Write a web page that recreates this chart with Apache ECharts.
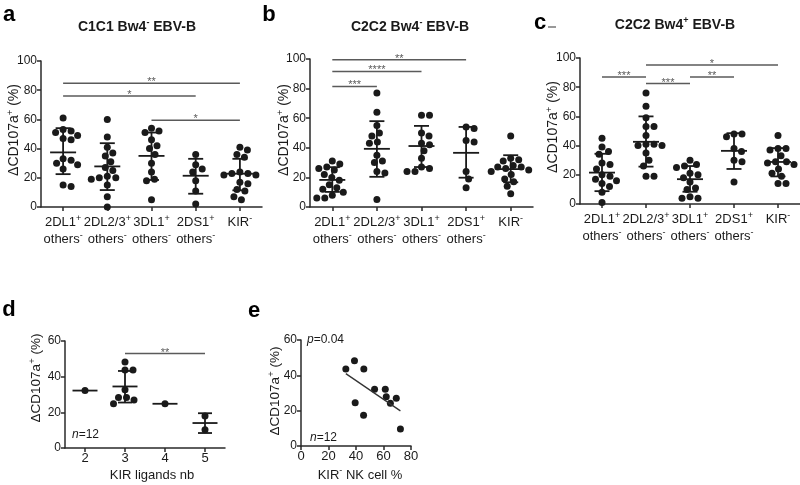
<!DOCTYPE html>
<html><head><meta charset="utf-8">
<script src="https://cdn.jsdelivr.net/npm/echarts@6/dist/echarts.min.js"></script>
<style>html,body{margin:0;padding:0;background:#fff}#c{width:800px;height:485px}</style>
</head><body><div id="c"></div>
<script>
// ---------- categories ----------
const groupMain = ['2DL1', '2DL2/3', '3DL1', '2DS1', 'KIR'];
const groupMainSup = ['+', '+', '+', '+', '-'];
const groupSecond = ['others', 'others', 'others', 'others', ''];
const ligandCats = ['2', '3', '4', '5'];
const yTicks100 = [0, 100, 20];
const yTicks60 = [0, 60, 20];
const xTicksE = [0, 80, 20];

// ---------- panel a : C1C1 Bw4- EBV-B ----------
const aValues = [
  [61, 53, 52, 51, 49, 47, 46, 33, 32, 30, 29, 26, 15, 14],
  [60, 48, 41, 37, 35, 31, 27, 25, 21, 20, 20, 19, 15, 7, 0],
  [54, 52, 51, 46, 42, 40, 36, 30, 24, 19, 18, 5],
  [36, 29, 26, 24, 18, 11, 2],
  [41, 39, 36, 34, 24, 23, 23, 22, 22, 17, 16, 12, 11, 7, 5]
];
const aMean = [37.4, 27.8, 35.0, 21.4, 22.8];
const aLow = [22.5, 11.6, 18.5, 9.1, 11.4];
const aHigh = [54.0, 43.7, 51.0, 33.0, 33.0];
const aSig = [[0, 4, 84.7, '**'], [0, 3, 76, '*'], [2, 4, 59.4, '*']];

// ---------- panel b : C2C2 Bw4- EBV-B ----------
const bValues = [
  [31, 29, 27, 26, 25, 22, 20, 18, 15, 13, 12, 10, 8, 6, 6],
  [77, 64, 55, 50, 48, 44, 43, 35, 31, 30, 24, 23, 5],
  [62, 62, 50, 48, 43, 42, 38, 33, 27, 26, 24, 24],
  [54, 53, 45, 44, 24, 19, 13],
  [48, 33, 32, 31, 28, 27, 27, 26, 25, 24, 22, 19, 17, 14, 9]
];
const bMean = [18.3, 39.3, 41.2, 36.6, 25.6];
const bLow = [10.2, 20.4, 27.0, 19.8, 16.7];
const bHigh = [26.9, 58.0, 54.8, 54.1, 35.0];
const bSig = [[0, 3, 99.5, '**'], [0, 2, 91.6, '****'], [0, 1, 81.5, '***']];

// ---------- panel c : C2C2 Bw4+ EBV-B ----------
const cValues = [
  [45, 39, 36, 34, 28, 27, 24, 20, 19, 17, 16, 14, 12, 8, 1],
  [76, 67, 59, 53, 53, 47, 41, 41, 40, 40, 35, 30, 26, 19, 19],
  [30, 27, 26, 25, 21, 20, 18, 15, 11, 10, 5, 4, 4],
  [48, 48, 46, 38, 36, 30, 29, 15],
  [47, 38, 38, 37, 33, 29, 29, 28, 27, 24, 21, 19, 14, 14]
];
const cMean = [21.5, 42.6, 17.0, 36.4, 28.8];
const cLow = [8.8, 25.6, 8.4, 24.0, 18.9];
const cHigh = [34.4, 60.0, 26.0, 48.5, 38.3];
const cSig = [[1, 4, 95.2, '*'], [0, 1, 87, '***'], [1, 2, 82.5, '***'], [2, 3, 87, '**']];

// ---------- panel d : KIR ligands nb ----------
const dValues = [
  [32.2],
  [48.2, 43.8, 43.8, 32.6, 28.3, 28.3, 26.9, 24.8],
  [24.8],
  [18.0, 10.2]
];
const dMean = [32.2, 34.5, 24.8, 14.0];
const dLow = [null, 25.5, null, 8.4];
const dHigh = [null, 43.2, null, 19.5];
const dSig = [[1, 3, 53, '**']];

// ---------- panel e : KIR- NK cell % ----------
const eX = [32.6, 38.9, 45.7, 39.4, 45.5, 53.5, 61.3, 62.0, 65.0, 69.3, 72.3];
const eY = [43.6, 48.3, 43.6, 24.5, 17.4, 32.1, 32.1, 27.9, 24.2, 27.0, 9.6];

// ---------- helpers ----------
const FONT = '"Liberation Sans", Arial, sans-serif';
const INK = '#1a1a1a';
const AXIS = '#2a2a2a';
const SIGC = '#5a5a5a';

const grids = [
  {left: 41, top: 61, width: 221, height: 146},
  {left: 310, top: 59, width: 223, height: 148},
  {left: 580, top: 58, width: 220, height: 146},
  {left: 65, top: 341, width: 160, height: 107},
  {left: 301, top: 340, width: 110, height: 106}
];

function swarm(vals, pxPerUnit, diam) {
  const order = vals.map((v, i) => i).sort((p, q) => vals[q] - vals[p]);
  const placed = [];
  const offs = new Array(vals.length).fill(0);
  for (const i of order) {
    const y = vals[i] * pxPerUnit;
    let chosen = 0;
    outer:
    for (let s = 0; s <= 60; s += 0.5) {
      for (const c of (s === 0 ? [0] : [s, -s])) {
        let ok = true;
        for (const p of placed) {
          const dx = p.x - c, dy = p.y - y;
          if (dx * dx + dy * dy < diam * diam) { ok = false; break; }
        }
        if (ok) { chosen = c; break outer; }
      }
    }
    placed.push({x: chosen, y: y});
    offs[i] = chosen;
  }
  return offs;
}

function dotData(values, pxPerUnit) {
  const out = [];
  values.forEach((grp, gi) => {
    const offs = swarm(grp, pxPerUnit, 7.8);
    grp.forEach((v, k) => out.push([gi, v, offs[k]]));
  });
  return out;
}

function dotSeries(idx, values, pxPerUnit) {
  return {
    type: 'custom', xAxisIndex: idx, yAxisIndex: idx, silent: true,
    data: dotData(values, pxPerUnit),
    renderItem: (params, api) => {
      const p = api.coord([api.value(0), api.value(1)]);
      return {type: 'circle', shape: {cx: p[0] + api.value(2), cy: p[1], r: 3.5}, style: {fill: INK}};
    }
  };
}

function barSeries(idx, mean, low, high, halfMean, halfCap) {
  const data = mean.map((m, i) => [i, m, low[i] == null ? m : low[i], high[i] == null ? m : high[i]]);
  return {
    type: 'custom', xAxisIndex: idx, yAxisIndex: idx, silent: true, z: 3,
    data: data,
    renderItem: (params, api) => {
      const i = api.value(0);
      const pm = api.coord([i, api.value(1)]);
      const pl = api.coord([i, api.value(2)]);
      const ph = api.coord([i, api.value(3)]);
      const st = {stroke: INK, lineWidth: 1.8};
      const ch = [{type: 'line', shape: {x1: pm[0] - halfMean, y1: pm[1], x2: pm[0] + halfMean, y2: pm[1]}, style: st}];
      if (api.value(2) !== api.value(3)) {
        ch.push({type: 'line', shape: {x1: pm[0], y1: pl[1], x2: pm[0], y2: ph[1]}, style: st});
        ch.push({type: 'line', shape: {x1: pm[0] - halfCap, y1: pl[1], x2: pm[0] + halfCap, y2: pl[1]}, style: st});
        ch.push({type: 'line', shape: {x1: pm[0] - halfCap, y1: ph[1], x2: pm[0] + halfCap, y2: ph[1]}, style: st});
      }
      return {type: 'group', children: ch};
    }
  };
}

function sigSeries(idx, sig) {
  return {
    type: 'custom', xAxisIndex: idx, yAxisIndex: idx, silent: true, z: 4,
    data: sig.map(s => [s[0], s[2], s[1]]),
    renderItem: (params, api) => {
      const a = api.coord([api.value(0), api.value(1)]);
      const b = api.coord([api.value(2), api.value(1)]);
      const label = sig[params.dataIndex][3];
      return {type: 'group', children: [
        {type: 'line', shape: {x1: a[0], y1: a[1], x2: b[0], y2: b[1]}, style: {stroke: SIGC, lineWidth: 1.5}},
        {type: 'text', x: (a[0] + b[0]) / 2, y: a[1] - 1,
          style: {text: label, fontSize: 11, fontFamily: FONT, fill: SIGC, align: 'center', verticalAlign: 'middle'}}
      ]};
    }
  };
}

const axisLineStyle = {show: true, lineStyle: {color: AXIS, width: 1.5}};
const axisTickStyle = {show: true, length: 4, lineStyle: {color: AXIS, width: 1.5}};

function catXAxis(idx) {
  return {
    type: 'category', gridIndex: idx, data: groupMain, boundaryGap: true,
    axisLine: axisLineStyle, axisTick: Object.assign({alignWithLabel: true, interval: 0}, axisTickStyle),
    splitLine: {show: false},
    axisLabel: {
      interval: 0, margin: 7, color: INK,
      formatter: (v, i) => '{m|' + groupMain[i] + '}{s|' + groupMainSup[i] + '}' +
        (groupSecond[i] ? '\n{m|' + groupSecond[i] + '}{s|-}' : ''),
      rich: {
        m: {fontSize: 13, fontFamily: FONT, color: INK, lineHeight: 17},
        s: {fontSize: 9, fontFamily: FONT, color: INK, lineHeight: 11, verticalAlign: 'top'}
      }
    }
  };
}

function valYAxis(idx, t) {
  return {
    type: 'value', gridIndex: idx, min: t[0], max: t[1], interval: t[2],
    axisLine: axisLineStyle, axisTick: axisTickStyle, splitLine: {show: false},
    axisLabel: {fontSize: 12, fontFamily: FONT, color: INK, margin: 4}
  };
}

// regression for panel e
const n = eX.length;
const mx = eX.reduce((s, v) => s + v, 0) / n;
const my = eY.reduce((s, v) => s + v, 0) / n;
let sxy = 0, sxx = 0;
for (let i = 0; i < n; i++) { sxy += (eX[i] - mx) * (eY[i] - my); sxx += (eX[i] - mx) * (eX[i] - mx); }
const slope = sxy / sxx;
const x0 = Math.min(...eX), x1 = Math.max(...eX);
const regLine = [[x0, my + slope * (x0 - mx)], [x1, my + slope * (x1 - mx)]];

const supRich = {
  t: {fontSize: 14, fontWeight: 'bold', fontFamily: FONT, fill: INK, color: INK, lineHeight: 18},
  ts: {fontSize: 9, fontWeight: 'bold', fontFamily: FONT, fill: INK, color: INK, lineHeight: 11, verticalAlign: 'top'},
  m: {fontSize: 13, fontFamily: FONT, fill: INK, color: INK, lineHeight: 17},
  ms: {fontSize: 9, fontFamily: FONT, fill: INK, color: INK, lineHeight: 11, verticalAlign: 'top'},
  y: {fontSize: 14, fontFamily: FONT, fill: INK, color: INK, lineHeight: 18},
  ys: {fontSize: 9.5, fontFamily: FONT, fill: INK, color: INK, lineHeight: 12, verticalAlign: 'top'},
  y2: {fontSize: 13.5, fontFamily: FONT, fill: INK, color: INK, lineHeight: 17},
  i: {fontSize: 12, fontStyle: 'italic', fontFamily: FONT, fill: INK, color: INK},
  r: {fontSize: 12, fontFamily: FONT, fill: INK, color: INK}
};

function rtext(x, y, text, extra) {
  return Object.assign({type: 'text', x: x, y: y, silent: true,
    style: {text: text, rich: supRich, align: 'center', verticalAlign: 'middle', fontFamily: FONT, fill: INK}}, extra || {});
}
function ltext(x, y, text) {
  return {type: 'text', x: x, y: y, silent: true,
    style: {text: text, rich: supRich, align: 'left', verticalAlign: 'middle', fontFamily: FONT, fill: INK}};
}
function letter(x, y, ch) {
  return {type: 'text', x: x, y: y, silent: true,
    style: {text: ch, fontSize: 22, fontWeight: 'bold', fontFamily: FONT, fill: '#000', align: 'center', verticalAlign: 'middle'}};
}
const yName = '{y|ΔCD107a}{ys|+}{y| (%)}';
const yName2 = '{y2|ΔCD107a}{ys|+}{y2| (%)}';

const option = {
  animation: false,
  backgroundColor: '#fff',
  grid: grids,
  xAxis: [
    catXAxis(0), catXAxis(1), catXAxis(2),
    {
      type: 'category', gridIndex: 3, data: ligandCats, boundaryGap: true,
      axisLine: axisLineStyle, axisTick: Object.assign({alignWithLabel: true}, axisTickStyle),
      axisLabel: {interval: 0, fontSize: 13, fontFamily: FONT, color: INK, margin: 4}
    },
    {
      type: 'value', gridIndex: 4, min: xTicksE[0], max: xTicksE[1], interval: xTicksE[2],
      axisLine: axisLineStyle, axisTick: axisTickStyle, splitLine: {show: false},
      axisLabel: {fontSize: 13, fontFamily: FONT, color: INK, margin: 4}
    }
  ],
  yAxis: [valYAxis(0, yTicks100), valYAxis(1, yTicks100), valYAxis(2, yTicks100), valYAxis(3, yTicks60), valYAxis(4, yTicks60)],
  series: [
    dotSeries(0, aValues, grids[0].height / 100), barSeries(0, aMean, aLow, aHigh, 13, 7.5), sigSeries(0, aSig),
    dotSeries(1, bValues, grids[1].height / 100), barSeries(1, bMean, bLow, bHigh, 13, 7.5), sigSeries(1, bSig),
    dotSeries(2, cValues, grids[2].height / 100), barSeries(2, cMean, cLow, cHigh, 13, 7.5), sigSeries(2, cSig),
    dotSeries(3, dValues, grids[3].height / 60), barSeries(3, dMean, dLow, dHigh, 12.5, 7), sigSeries(3, dSig),
    {type: 'scatter', xAxisIndex: 4, yAxisIndex: 4, symbolSize: 7, itemStyle: {color: INK, opacity: 1}, data: eX.map((x, i) => [x, eY[i]]), silent: true},
    {type: 'line', xAxisIndex: 4, yAxisIndex: 4, showSymbol: false, lineStyle: {color: '#333', width: 1.3}, data: regLine, silent: true}
  ],
  graphic: [
    letter(9, 14.5, 'a'), letter(269, 15, 'b'), letter(540, 22.8, 'c'), letter(9, 310, 'd'), letter(254, 311, 'e'),
    {type: 'line', silent: true, shape: {x1: 548, y1: 27, x2: 556, y2: 27}, style: {stroke: '#555', lineWidth: 1.2}},
    rtext(137, 26.7, '{t|C1C1 Bw4}{ts|-}{t| EBV-B}'),
    rtext(410, 26.7, '{t|C2C2 Bw4}{ts|-}{t| EBV-B}'),
    rtext(675, 25.3, '{t|C2C2 Bw4}{ts|+}{t| EBV-B}'),
    rtext(14, 130, yName, {rotation: Math.PI / 2}),
    rtext(284, 130, yName, {rotation: Math.PI / 2}),
    rtext(553, 127, yName, {rotation: Math.PI / 2}),
    rtext(36, 378, yName2, {rotation: Math.PI / 2}),
    rtext(275, 391, yName2, {rotation: Math.PI / 2}),
    rtext(152, 475, '{m|KIR ligands nb}'),
    rtext(360, 475, '{m|KIR}{ms|-}{m| NK cell %}'),
    ltext(72, 435, '{i|n}{r|=12}'),
    ltext(310, 438, '{i|n}{r|=12}'),
    ltext(307, 340, '{i|p}{r|=0.04}')
  ]
};

const chart = echarts.init(document.getElementById('c'), null, {renderer: 'canvas'});
chart.setOption(option);
</script>
</body></html>
